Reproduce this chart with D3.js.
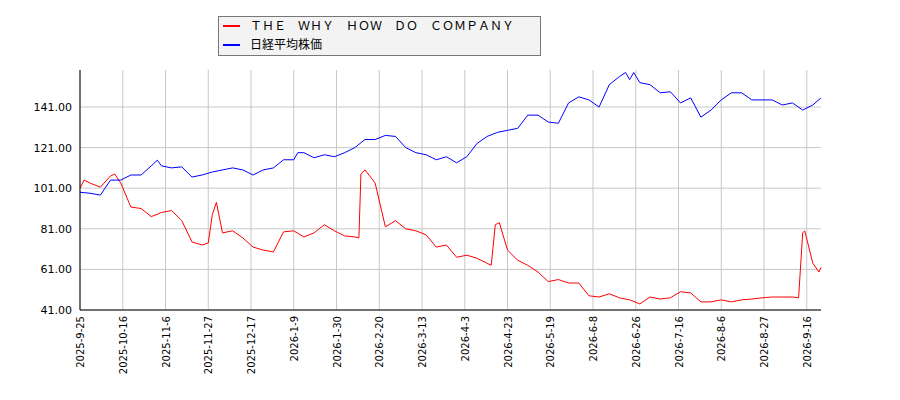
<!DOCTYPE html>
<html><head><meta charset="utf-8">
<script src="https://cdn.jsdelivr.net/npm/d3@7"></script>
<style>body{margin:0;background:#fff;font-family:"DejaVu Sans",sans-serif;}</style>
</head><body><div id="chart"></div>
<script>
const startDate = new Date(2025, 8, 25);
const yTicks = [41, 61, 81, 101, 121, 141];
const xTickLabels = ["2025-9-25","2025-10-16","2025-11-6","2025-11-27","2025-12-17","2026-1-9","2026-1-30","2026-2-20","2026-3-13","2026-4-3","2026-4-23","2026-5-19","2026-6-8","2026-6-26","2026-7-16","2026-8-6","2026-8-27","2026-9-16"];
const redDays = [0,2,5,10,15,17,20,25,30,35,40,45,50,55,60,63,65,67,70,75,80,85,90,95,100,105,110,115,120,125,130,135,137,138,140,145,150,155,160,165,170,175,180,185,190,195,200,202,204,206,210,215,220,225,230,235,240,245,250,255,260,265,270,275,280,285,290,295,300,305,310,315,320,325,330,335,340,345,350,353,355,356,358,360,363,364];
const redVals = [101,105,103.5,101.5,107,108,103.6,91.7,91,87,89,90,85,74.5,73,74,88,94,79,80,76.5,72,70.5,69.6,79.5,80,77,79,83,80,77.5,77,76.5,108,110,103.5,82,85,81,80,78,72,73,67,68,66.5,64,63,83,84,70.5,65.5,63,59.7,55,56,54.3,54.3,48,47.4,49,47,46,44,47.4,46.4,47,50,49.4,45,45,46,45,46,46.4,47,47.4,47.4,47.4,47,79,80,72,64,59.7,62];
const blueDays = [0,5,10,15,20,25,30,35,38,40,45,50,55,60,65,70,75,80,85,90,95,100,105,107,110,115,120,125,130,135,140,145,150,155,160,165,170,175,180,185,190,195,200,205,210,215,220,225,230,235,240,245,250,255,260,265,268,270,272,275,280,285,290,295,300,305,310,315,320,325,330,335,340,345,350,355,360,364];
const blueVals = [99,98.5,97.6,105,105,107.5,107.5,112,114.8,112,111,111.5,106.5,107.5,109,110,111,110,107.5,110,111,115,115,118.5,118.5,116,117.5,116.5,118.5,121,125,125,127,126.5,121,118.5,117.5,115,116.5,113.5,116.5,123,126.5,128.5,129.5,130.5,137,137,133.6,133,143,146,144.5,141,152,156,158,154.5,158,153,152,148,148.5,143,145.5,136,139.5,144.5,148,148,144.5,144.5,144.5,142,143,139.5,142,145.5];

const W = 900, H = 400, L = 80, R = 821, T = 70, B = 310;
const dayMs = 864e5;
const toDate = d => new Date(startDate.getTime() + d * dayMs);
const x = d3.scaleTime().domain([startDate, toDate(364)]).range([L, R]);
const y = d3.scaleLinear().domain([41, 41 + (B - T) * 20 / 40.6]).range([B, T]);
// tick marks are evenly spaced (every 21 calendar-day slot on the axis)
const tickX = (d, i) => x(toDate(i * 21));

const svg = d3.select("#chart").append("svg").attr("width", W).attr("height", H);

svg.append("g").selectAll("line").data(yTicks).join("line")
  .attr("x1", L).attr("x2", R).attr("y1", d => y(d)).attr("y2", d => y(d))
  .attr("stroke", "#c8c8c8");
svg.append("g").selectAll("line").data(xTickLabels).join("line")
  .attr("x1", tickX).attr("x2", tickX).attr("y1", T).attr("y2", B)
  .attr("stroke", "#c8c8c8");

const line = d3.line().x(d => x(toDate(d[0]))).y(d => y(d[1]));
svg.append("path").datum(redDays.map((d, i) => [d, redVals[i]]))
  .attr("d", line).attr("fill", "none").attr("stroke", "#ff0000").attr("stroke-width", 1);
svg.append("path").datum(blueDays.map((d, i) => [d, blueVals[i]]))
  .attr("d", line).attr("fill", "none").attr("stroke", "#0000ff").attr("stroke-width", 1);

// axes
svg.append("line").attr("x1", L).attr("x2", L).attr("y1", T).attr("y2", B).attr("stroke", "#000");
svg.append("line").attr("x1", L).attr("x2", R).attr("y1", B).attr("y2", B).attr("stroke", "#000");
svg.append("g").selectAll("text").data(yTicks).join("text")
  .attr("x", L - 8).attr("y", d => y(d) + 4).attr("text-anchor", "end")
  .style("font-size", "11px").text(d => d.toFixed(2));
svg.append("g").selectAll("text").data(xTickLabels).join("text")
  .attr("transform", (d, i) => `translate(${tickX(d, i) + 4},${B + 6}) rotate(-90)`)
  .attr("text-anchor", "end").style("font-size", "10px").text(d => d);

// legend
const lg = svg.append("g");
lg.append("rect").attr("x", 218.5).attr("y", 16.5).attr("width", 322).attr("height", 39)
  .attr("fill", "#f3f3f3").attr("stroke", "#777");
[["ＴＨＥ　ＷＨＹ　ＨＯＷ　ＤＯ　ＣＯＭＰＡＮＹ", "#ff0000"], ["日経平均株価", "#0000ff"]].forEach((it, i) => {
  lg.append("line").attr("x1", 223).attr("x2", 240).attr("y1", 26 + i * 19).attr("y2", 26 + i * 19)
    .attr("stroke", it[1]).attr("stroke-width", 2);
  lg.append("text").attr("x", 250).attr("y", 30 + i * 19).style("font-size", "12px")
    .attr("font-family", "'Noto Sans CJK JP',sans-serif").text(it[0]);
});
</script></body></html>
